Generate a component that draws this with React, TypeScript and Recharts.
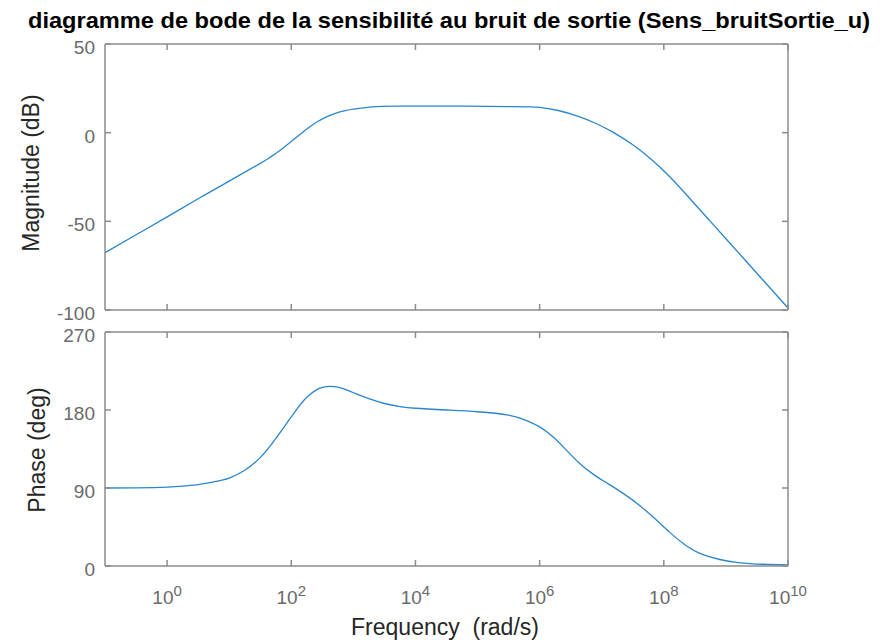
import React from 'react';
import { LineChart, Line, XAxis, YAxis } from 'recharts';

// frequency axis values are given as decades (log10 of rad/s)
const magDecades = [-1, -0.5, 0, 0.5, 1, 1.5, 1.65, 1.8, 1.95, 2.1, 2.25, 2.4, 2.55, 2.7, 2.85, 3, 3.3, 3.7, 4.5, 5.5, 6, 6.3, 6.6, 6.9, 7.2, 7.5, 7.8, 8.1, 8.4, 8.7, 9, 9.3, 9.65, 10];
const magnitudeDb = [-67.7, -57.6, -47.5, -37.3, -27.3, -17.3, -14.1, -10.5, -6.4, -2.1, 2.1, 5.7, 8.6, 10.8, 12.3, 13.3, 14.6, 15, 15, 14.7, 14.3, 12.5, 9.5, 5.3, -0.1, -6.85, -15.1, -25, -36.4, -48.1, -59.8, -71.5, -85.2, -98.9];

const phaseDecades = [-1, -0.5, 0, 0.5, 0.75, 1, 1.25, 1.5, 1.75, 2, 2.1, 2.2, 2.3, 2.4, 2.5, 2.62, 2.75, 2.9, 3.05, 3.25, 3.5, 3.75, 4, 4.5, 5, 5.5, 5.8, 6, 6.2, 6.4, 6.65, 6.9, 7.1, 7.35, 7.6, 7.85, 8.1, 8.35, 8.6, 8.9, 9.2, 9.6, 10];
const phaseDeg = [90, 90.2, 91, 94, 97, 101.5, 110.5, 125, 147, 172, 182, 191, 198, 203, 206, 207.3, 206.3, 203, 198.5, 193, 187.5, 184, 182, 180, 178, 174, 167.5, 160.5, 150, 136, 118, 104, 95, 83.5, 70.5, 55, 38.5, 24, 14, 7.5, 4, 2, 1.2];

const freqTicks = [1, 1e2, 1e4, 1e6, 1e8, 1e10];
const magTicks = [-100, -50, 0, 50];
const phaseTicks = [0, 90, 180, 270];

const magData = magDecades.map((d, i) => ({ w: Math.pow(10, d), mag: magnitudeDb[i] }));
const phaseData = phaseDecades.map((d, i) => ({ w: Math.pow(10, d), phase: phaseDeg[i] }));

const FONT = '"Liberation Sans", Arial, Helvetica, sans-serif';
const AXIS = '#8c8c8c';
const TICK_TEXT = '#6a6a6a';
const LABEL = '#262626';
const BLUE = '#2a86cc';
const TL = 6;

const BottomTick = (props: any) => {
  const { x, y, payload, showLabel } = props;
  const exp = Math.round(Math.log10(payload.value));
  return (
    <g>
      <line x1={x} y1={y} x2={x} y2={y - TL} stroke={AXIS} strokeWidth={1.5} />
      {showLabel && (
        <text x={x} y={y + 38} textAnchor="middle" fill={TICK_TEXT} fontSize={19} fontFamily={FONT}>
          10<tspan dy={-8} fontSize={15}>{exp}</tspan>
        </text>
      )}
    </g>
  );
};

const TopTick = (props: any) => {
  const { x, y } = props;
  return <line x1={x} y1={y} x2={x} y2={y + TL} stroke={AXIS} strokeWidth={1.5} />;
};

const LeftTick = (props: any) => {
  const { x, y, payload, dy } = props;
  return (
    <g>
      <line x1={x} y1={y} x2={x + TL} y2={y} stroke={AXIS} strokeWidth={1.5} />
      <text x={x - 10} y={y + dy} textAnchor="end" fill={TICK_TEXT} fontSize={19} fontFamily={FONT}>
        {payload.value}
      </text>
    </g>
  );
};

const RightTick = (props: any) => {
  const { x, y } = props;
  return <line x1={x} y1={y} x2={x - TL} y2={y} stroke={AXIS} strokeWidth={1.5} />;
};

const axisLine = { stroke: AXIS, strokeWidth: 1.5 };

const xAxes = (showLabel: boolean, bottomHeight: number) => [
  <XAxis
    key="b"
    dataKey="w"
    type="number"
    scale="log"
    domain={[0.1, 1e10]}
    allowDataOverflow
    ticks={freqTicks}
    interval={0}
    height={bottomHeight}
    tickSize={0}
    tickMargin={0}
    tickLine={false}
    axisLine={axisLine}
    tick={(p: any) => <BottomTick {...p} showLabel={showLabel} />}
  />,
  <XAxis
    key="t"
    xAxisId="top"
    orientation="top"
    dataKey="w"
    type="number"
    scale="log"
    domain={[0.1, 1e10]}
    allowDataOverflow
    ticks={freqTicks}
    interval={0}
    height={10}
    tickSize={0}
    tickMargin={0}
    tickLine={false}
    axisLine={axisLine}
    tick={TopTick}
  />,
];

const yAxes = (domain: number[], ticks: number[], dy: number) => [
  <YAxis
    key="l"
    type="number"
    domain={domain}
    allowDataOverflow
    ticks={ticks}
    interval={0}
    width={60}
    tickSize={0}
    tickMargin={0}
    tickLine={false}
    axisLine={axisLine}
    tick={(p: any) => <LeftTick {...p} dy={dy} />}
  />,
  <YAxis
    key="r"
    yAxisId="right"
    orientation="right"
    type="number"
    domain={domain}
    allowDataOverflow
    ticks={ticks}
    interval={0}
    width={10}
    tickSize={0}
    tickMargin={0}
    tickLine={false}
    axisLine={axisLine}
    tick={RightTick}
  />,
];

export default function App() {
  return (
    <div style={{ position: 'absolute', left: 0, top: 0, width: 880, height: 643, background: '#fff' }}>
      <div style={{ position: 'absolute', left: 0, top: 0 }}>
        <LineChart width={880} height={330} data={magData} margin={{ top: 34, right: 82, bottom: 0, left: 45 }}>
          {xAxes(false, 20)}
          {yAxes([-100, 50], magTicks, 10)}
          <Line type="natural" dataKey="mag" stroke={BLUE} strokeWidth={1.3} dot={false} isAnimationActive={false} />
        </LineChart>
      </div>
      <div style={{ position: 'absolute', left: 0, top: 320 }}>
        <LineChart width={880} height={323} data={phaseData} margin={{ top: 2, right: 82, bottom: 27, left: 45 }}>
          {xAxes(true, 50)}
          {yAxes([0, 270], phaseTicks, 9.5)}
          <Line type="natural" dataKey="phase" stroke={BLUE} strokeWidth={1.3} dot={false} isAnimationActive={false} />
        </LineChart>
      </div>
      <svg width={880} height={643} style={{ position: 'absolute', left: 0, top: 0, pointerEvents: 'none' }}>
        <text x={449} y={28} textAnchor="middle" fontSize={22} fontWeight="bold" fill="#000" fontFamily={FONT} textLength={842} lengthAdjust="spacingAndGlyphs">
          diagramme de bode de la sensibilité au bruit de sortie (Sens_bruitSortie_u)
        </text>
        <text transform="translate(39,173) rotate(-90)" textAnchor="middle" fontSize={23} fill={LABEL} fontFamily={FONT}>
          Magnitude (dB)
        </text>
        <text transform="translate(45,450) rotate(-90)" textAnchor="middle" fontSize={23} fill={LABEL} fontFamily={FONT}>
          Phase (deg)
        </text>
        <text x={445} y={635} textAnchor="middle" fontSize={23} fill={LABEL} fontFamily={FONT} xmlSpace="preserve">
          Frequency  (rad/s)
        </text>
      </svg>
    </div>
  );
}
